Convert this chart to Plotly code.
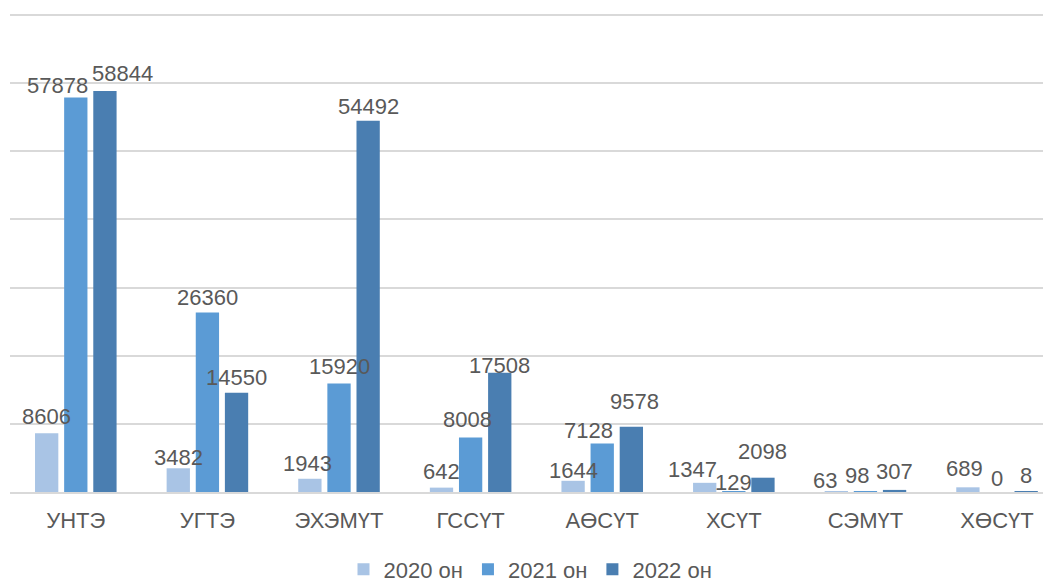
import plotly.graph_objects as go

categories = ["УНТЭ", "УГТЭ", "ЭХЭМҮТ", "ГССҮТ", "АӨСҮТ", "ХСҮТ", "СЭМҮТ", "ХӨСҮТ"]
series_names = ["2020 он", "2021 он", "2022 он"]
v2020 = [8606, 3482, 1943, 642, 1644, 1347, 63, 689]
v2021 = [57878, 26360, 15920, 8008, 7128, 129, 98, 0]
v2022 = [58844, 14550, 54492, 17508, 9578, 2098, 307, 8]
colors = ["#A9C4E5", "#5B9BD5", "#4A7EB1"]

# data-label nudges (px) mimicking the reference's collision-avoiding label placement
label_dx = [[0, 0, -2, 0, 0, -12.5, -11, -3.5],
            [-18, 0, 0, -3, -13.5, 0, -8, 0],
            [18, 0, 0, 0, 3, 0, 0, 0]]
label_gap = [[8.5, 1.5, 6.5, 7.5, 2, 4.5, 2.5, 10],
             [3.5, 6.5, 8.5, 9, 4.5, -0.5, 7.5, 4.5],
             [9, 6.5, 5.5, -1.5, 16, 17, 10, 7.5]]

FONT = "Liberation Sans, Arial, sans-serif"
TXT = "#595959"
FS = 22
BARGAP = 0.336

all_vals = [v2020, v2021, v2022]
fig = go.Figure()
for name, vals, col in zip(series_names, all_vals, colors):
    fig.add_trace(go.Bar(
        x=categories, y=vals, name=name,
        marker=dict(color=col, line=dict(width=0)),
    ))

annotations = []
n = len(all_vals)
for k, vals in enumerate(all_vals):
    for i, v in enumerate(vals):
        annotations.append(dict(
            x=i + (k - (n - 1) / 2) * (1 - BARGAP) / n, y=v,
            xref="x", yref="y", text=str(v), showarrow=False,
            xanchor="center", yanchor="bottom",
            xshift=label_dx[k][i], yshift=label_gap[k][i] - 5.7,
            font=dict(size=FS, color=TXT, family=FONT),
        ))

# page body has an 8px default margin, so the figure is sized/offset to compensate
fig.update_layout(
    width=1043, height=573,
    margin=dict(l=2, r=0, t=6, b=89),
    barmode="group", bargap=BARGAP, bargroupgap=0.2,
    plot_bgcolor="white", paper_bgcolor="white",
    font=dict(family=FONT, color=TXT, size=FS),
    annotations=annotations,
    legend=dict(orientation="h", x=0.5, xanchor="center", yref="container",
                y=0.02, yanchor="middle", font=dict(size=FS, color=TXT),
                itemwidth=30, traceorder="normal"),
    xaxis=dict(range=[-0.5, 7.41], showgrid=False, showline=True,
               linecolor="#d9d9d9", linewidth=1.5, ticks="outside", ticklen=8,
               tickcolor="rgba(0,0,0,0)", tickfont=dict(size=FS, color=TXT)),
    yaxis=dict(range=[0, 70150], tick0=0, dtick=10000, showgrid=True, gridcolor="#d9d9d9",
               gridwidth=1.5, showticklabels=False, zeroline=False),
)

fig.write_html("out.html")
